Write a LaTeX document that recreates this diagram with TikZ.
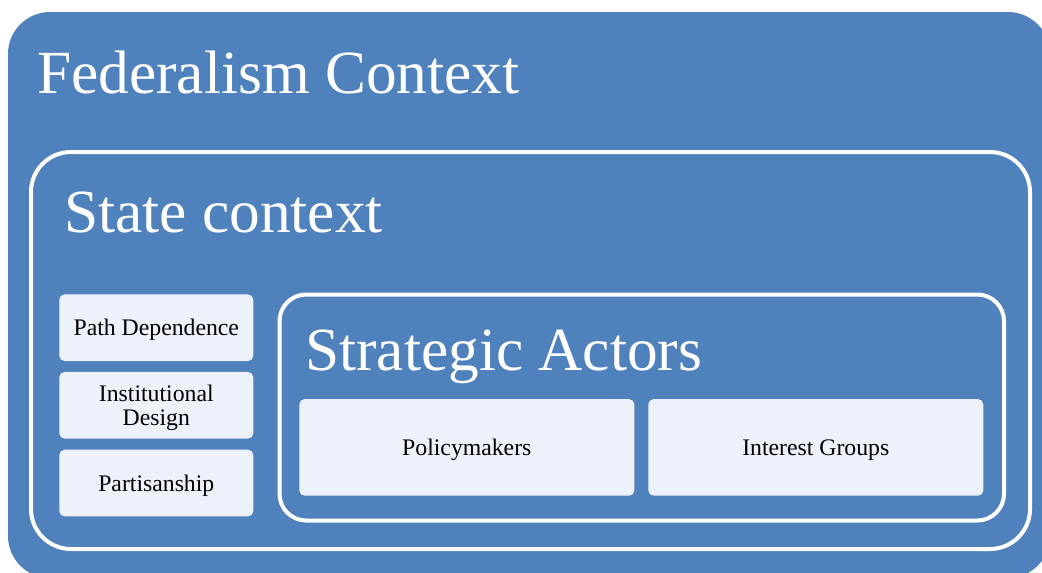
\documentclass[tikz,border=0pt]{standalone}
\usepackage{fontspec}
\setmainfont{Liberation Serif}
\usepackage{xcolor}
\usepackage{tikz}
\definecolor{fedblue}{HTML}{4F81BD}
\definecolor{boxfill}{HTML}{EDF1F9}
\tikzstyle{frame} = [draw=white, line width=3pt]
\tikzstyle{itembox} = [fill=boxfill, rounded corners=4pt, inner sep=2pt,
align=center, text depth=0pt, font=\fontsize{17.8}{18.3}\selectfont]
\tikzstyle{bigtitle} = [text=white, anchor=base west, inner sep=0pt,
font=\fontsize{46}{54}\selectfont]

\begin{document}
\begin{tikzpicture}[x=0.75pt, y=-0.75pt]
        \clip (0,0) rectangle (1042,572);
        % nested contexts
        \fill[fedblue, rounded corners=31.5pt] (8,12) rectangle (1050,578);
        \draw[frame, rounded corners=30pt] (31,152) rectangle (1030,549);
        \draw[frame, rounded corners=20pt] (279.5,294.5) rectangle (1004,520.5);
        \node[bigtitle] (fed) at (37,93) {Federalism Context};
        \node[bigtitle] (state) at (64,232) {State context};
        \node[bigtitle] (actors) at (305,370) {Strategic Actors};
        % state factors
        \node[itembox, minimum width=145.5pt, minimum height=50pt] (path) at (156.3,327.7) {Path Dependence};
        \node[itembox, minimum width=145.5pt, minimum height=50pt] (design) at (156.3,405.3) {Institutional\\Design};
        \node[itembox, minimum width=145.5pt, minimum height=50pt] (party) at (156.3,483) {Partisanship};
        % actors
        \node[itembox, minimum width=251.25pt, minimum height=72.5pt] (policy) at (466.8,447.4) {Policymakers};
        \node[itembox, minimum width=251.25pt, minimum height=72.5pt] (groups) at (815.8,447.4) {Interest Groups};
    \end{tikzpicture}
\end{document}
